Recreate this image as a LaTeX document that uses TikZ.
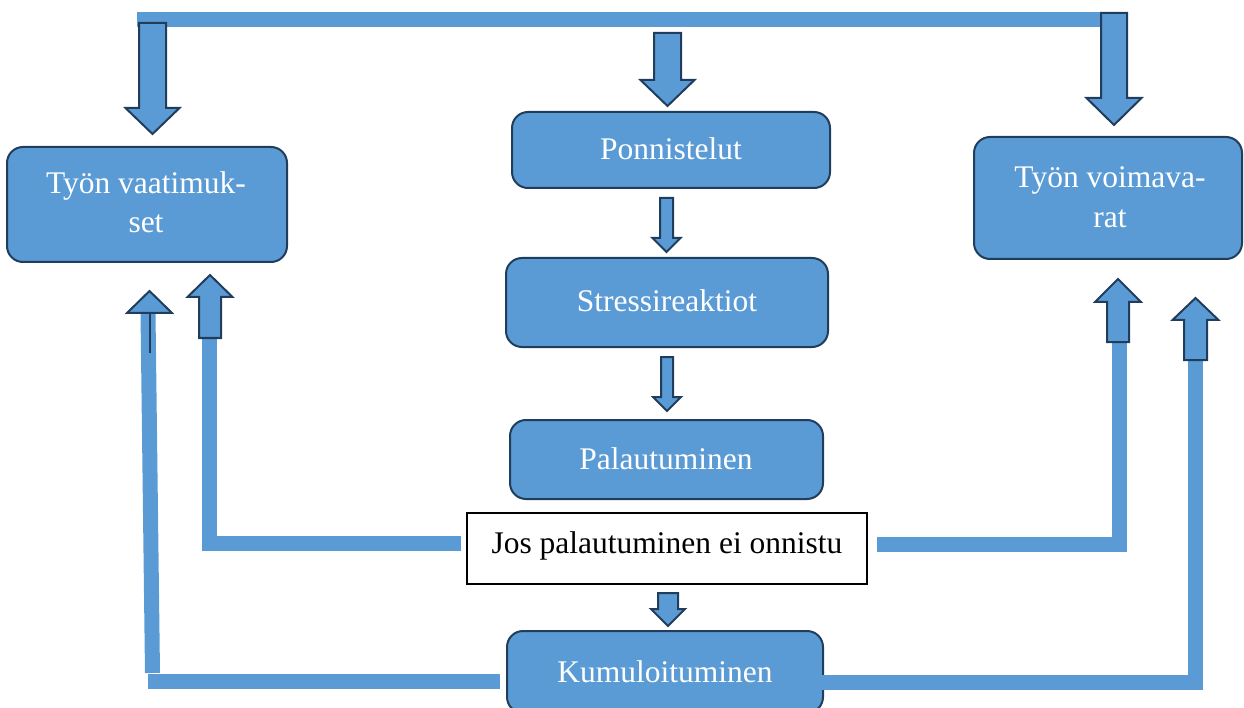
\documentclass[tikz,border=0pt]{standalone}
\usepackage{fontspec}
\setmainfont{Liberation Serif}
\definecolor{boxblue}{HTML}{5B9BD5}
\definecolor{edgeblue}{HTML}{213D5C}
\tikzset{
  flowbox/.style={draw=edgeblue, line width=2pt, fill=boxblue, rounded corners=16pt, inner sep=0pt},
  plainbox/.style={draw=black, line width=1.3pt, fill=white, inner sep=0pt},
  boxtext/.style={text=white, font=\fontsize{31.5}{39}\selectfont, anchor=base, inner sep=0pt},
  plaintext/.style={text=black, font=\fontsize{31.5}{39}\selectfont, anchor=base, inner sep=0pt},
  barrow/.style={draw=edgeblue, line width=2pt, fill=boxblue, line join=miter},
  feedline/.style={draw=boxblue, line width=15pt, line cap=butt, line join=miter},
}
% #1 centre x, #2 shaft start y, #3 shaft half width, #4 head base y, #5 head half width, #6 tip y
\newcommand\blockarrow[6]{%
  \draw[barrow] (#1-#3,#2) -- (#1+#3,#2) -- (#1+#3,#4) -- (#1+#5,#4) -- (#1,#6)
    -- (#1-#5,#4) -- (#1-#3,#4) -- cycle;}
\begin{document}
\begin{tikzpicture}[x=1pt,y=-1pt]
\useasboundingbox (0,0) rectangle (1244,708);
\clip (0,0) rectangle (1244,708);

% boxes
\node[flowbox, minimum width=280pt, minimum height=115pt] (vaat) at (147,204.5) {};
\node[flowbox, minimum width=318pt, minimum height=76pt] (ponn) at (671,150) {};
\node[flowbox, minimum width=322pt, minimum height=89pt] (stress) at (667,302.5) {};
\node[flowbox, minimum width=268pt, minimum height=122pt] (voima) at (1108,198) {};
\node[flowbox, minimum width=313pt, minimum height=79pt] (palaut) at (666.5,459.5) {};
\node[plainbox, minimum width=400pt, minimum height=71pt] (jos) at (667,548.5) {};
\node[flowbox, minimum width=316pt, minimum height=82pt] (kumu) at (665,672) {};

% texts
\node[boxtext] (vaatA) at (146,194) {Työn vaatimuk-};
\node[boxtext] (vaatB) at (146,233) {set};
\node[boxtext] (ponnT) at (671,160) {Ponnistelut};
\node[boxtext] (stressT) at (667,312) {Stressireaktiot};
\node[boxtext] (voimaA) at (1110,188) {Työn voimava-};
\node[boxtext] (voimaB) at (1110,228) {rat};
\node[boxtext] (palautT) at (666,469) {Palautuminen};
\node[plaintext] (josT) at (667,553) {Jos palautuminen ei onnistu};
\node[boxtext] (kumuT) at (665,682) {Kumuloituminen};

% feedback lines
\coordinate (topL) at (137,20);
\coordinate (topR) at (1127,20);
\draw[feedline] (topL) -- (topR);

\coordinate (oLtop) at (148,313);
\coordinate (oLbot) at (152.5,673);
\coordinate (oLcorner) at (148,681.5);
\coordinate (kumuL) at (500,681.5);
\draw[feedline] (oLtop) -- (oLbot);
\draw[feedline] (oLcorner) -- (kumuL);

\coordinate (iLtop) at (209.5,338);
\coordinate (iLcorner) at (209.5,543);
\coordinate (josL) at (461,543);
\draw[feedline] (iLtop) -- (iLcorner) -- (josL);

\coordinate (josR) at (877,544.5);
\coordinate (iRcorner) at (1119.5,544.5);
\coordinate (iRtop) at (1119.5,342);
\draw[feedline] (josR) -- (iRcorner) -- (iRtop);

\coordinate (kumuR) at (822,682);
\coordinate (oRcorner) at (1195,682);
\coordinate (oRtop) at (1195,360);
\draw[feedline] (kumuR) -- (oRcorner) -- (oRtop);

% block arrows (down)
\blockarrow{152.5}{23}{13.5}{108}{27}{134}
\blockarrow{667.5}{33}{13.5}{80}{27}{106}
\blockarrow{1114}{13}{13}{98}{27.5}{125}
\blockarrow{666.5}{198}{6.5}{238}{14}{252}
\blockarrow{667}{357}{6}{397}{14}{411}
\blockarrow{668}{593}{10}{609}{17}{626}

% block arrows (up)
\draw[barrow] (127,313) -- (149.5,291) -- (172,313) -- cycle;
\draw[edgeblue, line width=2pt] (149.5,313) -- (149.5,353);
\blockarrow{210}{338}{11}{297}{22.5}{275}
\blockarrow{1118}{342}{11}{302}{23}{279}
\blockarrow{1195.5}{360}{11.5}{320}{23}{298}
\end{tikzpicture}
\end{document}
